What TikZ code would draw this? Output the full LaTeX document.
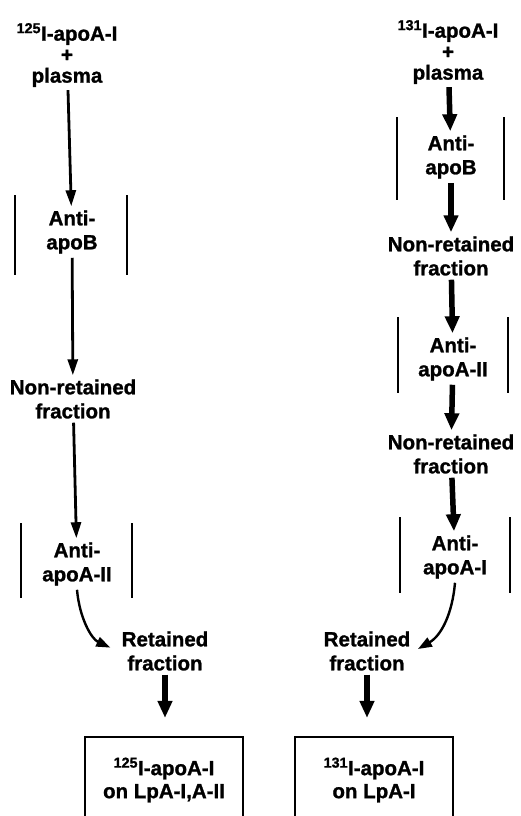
\documentclass[tikz,border=0pt]{standalone}
\usepackage{fontspec}
\setmainfont{Liberation Sans}[BoldFeatures={FakeBold=1.2}]
\usetikzlibrary{arrows.meta,calc}
\begin{document}
\begin{tikzpicture}[x=1pt,y=-1pt,
  lbl/.style={font=\fontsize{20.5}{24}\bfseries\selectfont, align=center, inner sep=4pt},
  toplbl/.style={font=\fontsize{20.5}{21}\bfseries\selectfont, align=center, inner sep=3pt},
  thinarr/.style={line width=2.8pt, -{Triangle[length=16pt,width=10pt]}},
  thickarr/.style={line width=5.5pt, -{Triangle[length=17pt,width=14pt]}},
  curvarr/.style={line width=2.4pt, -{Triangle[length=14pt,width=10pt]}},
  colbar/.style={line width=2.2pt},
  resbox/.style={draw, line width=2.2pt, minimum width=158pt, minimum height=86pt,
    font=\fontsize{20.5}{23}\bfseries\selectfont, align=center}
]
\useasboundingbox (0,0) rectangle (521,816);
\clip (0,0) rectangle (521,816);

% ---------- left column ----------
\node[toplbl] (L0) at (67,55) {\textsuperscript{125}I-apoA-I\\+\\plasma};
\node[lbl] (LA) at (72,232) {Anti-\\apoB};
\node[lbl] (LN) at (73,399) {Non-retained\\fraction};
\node[lbl] (LB) at (77,564) {Anti-\\apoA-II};
\node[lbl] (LR) at (165,651) {Retained\\fraction};
\node[resbox] (LBox) at (164,780) {\textsuperscript{125}I-apoA-I\\on LpA-I,A-II};

\draw[colbar] ($(LA.center)+(-57,-37)$) -- ++(0,80);
\draw[colbar] ($(LA.center)+(55,-37)$) -- ++(0,80);
\draw[colbar] ($(LB.center)+(-56,-41)$) -- ++(0,75);
\draw[colbar] ($(LB.center)+(55,-41)$) -- ++(0,75);

\draw[thinarr] (L0) -- (LA);
\draw[thinarr] (LA) -- (LN);
\draw[thinarr] (LN) -- (LB);
\draw[curvarr, shorten >=8pt] (LB.south) to[out=-85, in=155] (LR.west);
\draw[thickarr, shorten >=18pt] (LR.south) -- (LR.south |- LBox.north);

% ---------- right column ----------
\node[toplbl] (R0) at (448,52) {\textsuperscript{131}I-apoA-I\\+\\plasma};
\node[lbl] (RA) at (451,157) {Anti-\\apoB};
\node[lbl] (RN) at (451,256) {Non-retained\\fraction};
\node[lbl] (RB) at (453,359) {Anti-\\apoA-II};
\node[lbl] (RN2) at (451,454) {Non-retained\\fraction};
\node[lbl] (RC) at (455,557) {Anti-\\apoA-I};
\node[lbl] (RR) at (367,651) {Retained\\fraction};
\node[resbox] (RBox) at (374,780) {\textsuperscript{131}I-apoA-I\\on LpA-I};

\draw[colbar] ($(RA.center)+(-54,-40)$) -- ++(0,83);
\draw[colbar] ($(RA.center)+(53,-40)$) -- ++(0,83);
\draw[colbar] ($(RB.center)+(-55,-42)$) -- ++(0,76);
\draw[colbar] ($(RB.center)+(55,-42)$) -- ++(0,76);
\draw[colbar] ($(RC.center)+(-55,-40)$) -- ++(0,76);
\draw[colbar] ($(RC.center)+(55,-40)$) -- ++(0,76);

\draw[thickarr] (R0) -- (RA);
\draw[thickarr] (RA) -- (RN);
\draw[thickarr] (RN) -- (RB);
\draw[thickarr] (RB) -- (RN2);
\draw[thickarr] (RN2) -- (RC);
\draw[curvarr, shorten >=4pt] (RC.south) to[out=-95, in=30] (RR.east);
\draw[thickarr, shorten >=18pt] (RR.south) -- (RR.south |- RBox.north);
\end{tikzpicture}
\end{document}
